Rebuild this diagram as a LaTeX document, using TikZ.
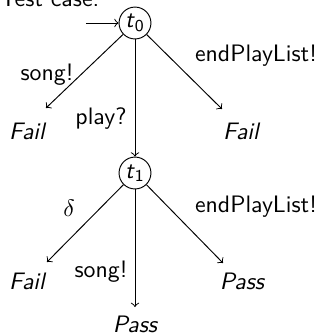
\documentclass[tikz,border=0pt]{standalone}
\usepackage{amsmath}
\usetikzlibrary{calc}

\tikzset{
    state/.style={draw, circle, minimum size=13.4pt, inner sep=0pt},
    verdict/.style={font=\sffamily\itshape},
}

\begin{document}
\begin{tikzpicture}[x=0.42pt, y=-0.42pt, font=\sffamily]
    \useasboundingbox (0,0) rectangle (320,334);

    \node[anchor=base west, inner sep=0pt] (title) at (0,6) {Test case:};

    \node[state] (t0) at (135,23) {\textit{t}$_{\textsf{0}}$};
    \node[state] (t1) at (135,173) {\textit{t}$_{\textsf{1}}$};

    \coordinate (init) at (86,23);
    \coordinate (A) at (46,108);
    \coordinate (B) at (222,109);
    \coordinate (C) at (47,262);
    \coordinate (D) at (135,307);
    \coordinate (E) at (223,263);

    \draw[->] (init) -- (t0);
    \draw[->] (t0) -- (A);
    \draw[->] (t0) -- (B);
    \draw[->] (t0) -- (t1);
    \draw[->] (t1) -- (C);
    \draw[->] (t1) -- (D);
    \draw[->] (t1) -- (E);

    \node[verdict] (fa) at (27,131) {Fail};
    \node[verdict] (fb) at (241,131) {Fail};
    \node[verdict] (fc) at (27,281) {Fail};
    \node[verdict] (pd) at (135,324) {Pass};
    \node[verdict] (pe) at (242,281) {Pass};

    \node (l1) at (47,75) {song!};
    \node (l2) at (101,119) {play?};
    \node (l3) at (256,56) {endPlayList!};
    \node (l4) at (69,208) {$\delta$};
    \node (l5) at (256,207) {endPlayList!};
    \node (l6) at (101,272) {song!};
\end{tikzpicture}
\end{document}
